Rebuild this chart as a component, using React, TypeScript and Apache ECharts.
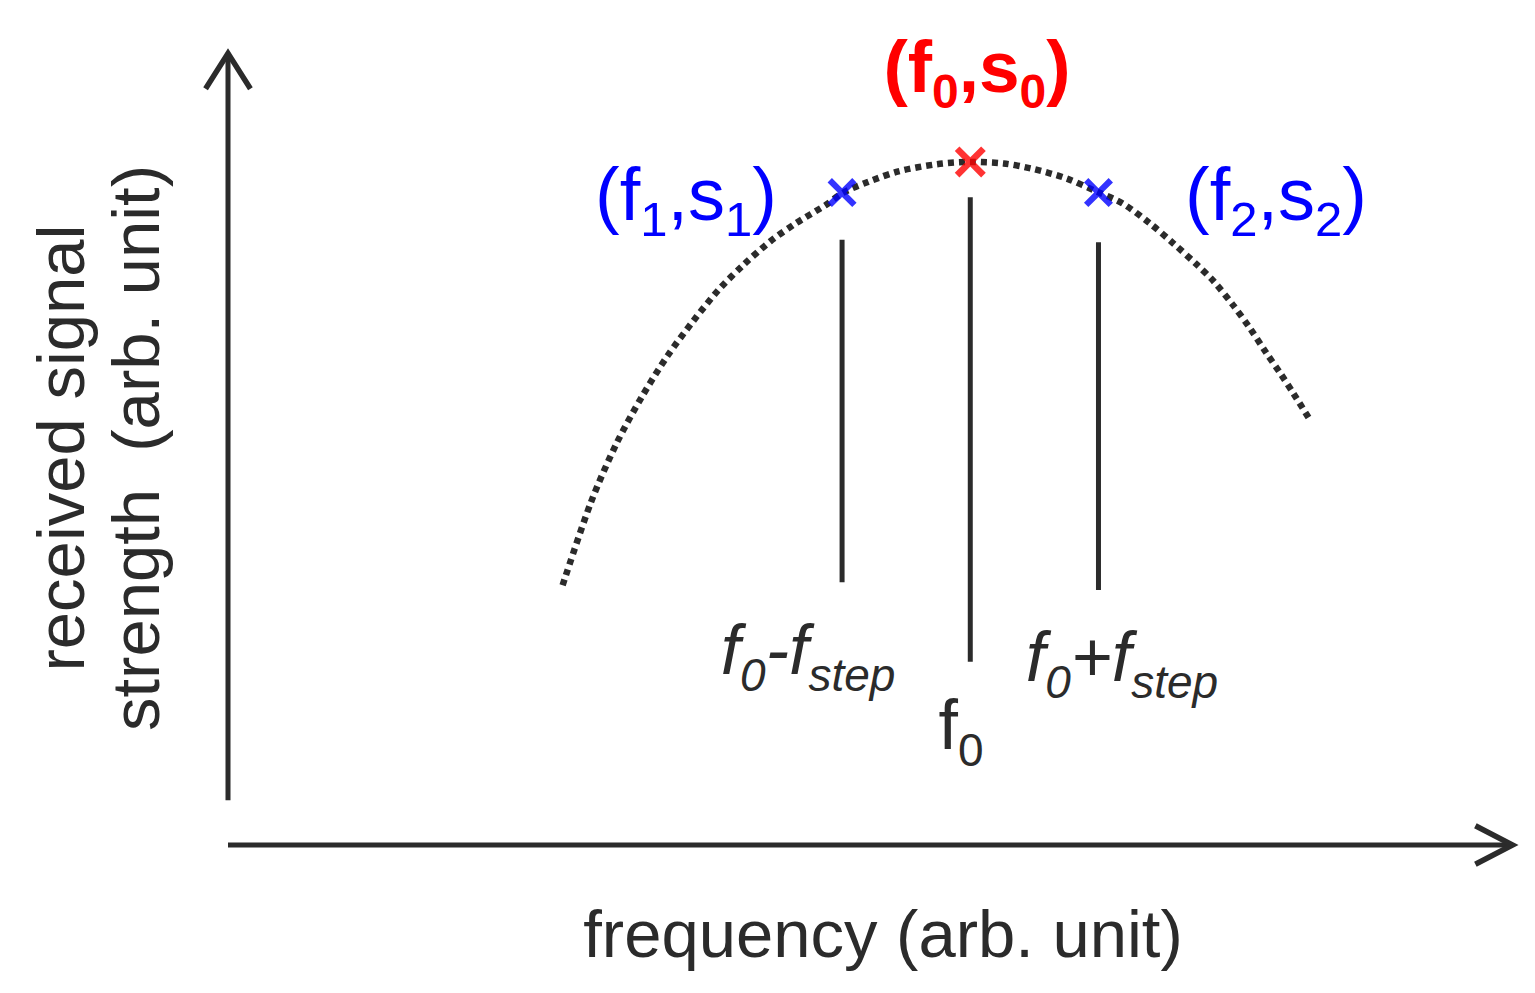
import React, { useEffect, useRef } from "react";
import * as echarts from "echarts";

// Resonance curve (frequency, signal), arbitrary units
const curveFreq = [26.1, 28.3, 30.3, 32.3, 34.3, 36.3, 38.3, 40.2, 42.3, 44.3, 46.6, 48.0, 50.0, 52.3, 55.3, 57.9, 60.5, 62.8, 65.4, 67.8, 69.8, 71.9, 73.7, 75.6, 76.9, 78.4, 79.7, 81.0, 82.1, 83.1, 84.4];
const curveSignal = [33.0, 43.5, 51.0, 57.0, 62.2, 66.6, 70.6, 73.7, 76.7, 79.0, 81.3, 82.9, 84.3, 85.6, 86.5, 86.8, 86.6, 85.9, 84.7, 83.0, 81.5, 79.0, 76.5, 73.7, 71.6, 68.6, 65.7, 62.5, 59.9, 57.4, 54.0];

// sampling points f1, f0, f2 and their signal strengths
const sampleFreq = [47.9, 57.9, 67.9];
const sampleSignal = [82.9, 86.8, 82.9];
const sampleColors = ["#0000ff", "#ff0000", "#0000ff"];

// vertical reference stems at f0 - fstep, f0, f0 + fstep
const stemFreq = [47.9, 57.9, 67.9];
const stemTop = [76.9, 82.3, 76.6];
const stemBottom = [33.4, 23.3, 32.4];

// axes (with open arrow heads)
const yAxisShaft = [[0, 5.7], [0, 100.6]];
const yAxisHead = [[-1.75, 96.1], [0, 100.6], [1.75, 96.1]];
const xAxisShaft = [[0, 0], [100.2, 0]];
const xAxisHead = [[97.3, 2.45], [100.2, 0], [97.3, -2.45]];

const FONT = "'Liberation Sans', Arial, Helvetica, sans-serif";
const DARK = "#2b2b2b";

const XMARK = "path://M0,1.5 L1.5,0 L5,3.5 L8.5,0 L10,1.5 L6.5,5 L10,8.5 L8.5,10 L5,6.5 L1.5,10 L0,8.5 L3.5,5 Z";

function richStyles(fill: string, size: number, sub: number, weight: string, style: string) {
  return {
    m: { fontSize: size, fontFamily: FONT, fill, fontWeight: weight, fontStyle: style },
    s: { fontSize: sub, fontFamily: FONT, fill, fontWeight: weight, fontStyle: style, padding: [50, 0, 0, 0] },
  };
}

export default function App() {
  const ref = useRef<HTMLDivElement>(null);
  useEffect(() => {
    if (!ref.current) return;
    const chart = echarts.init(ref.current, null, { renderer: "svg" });

    const darkLine = (data: number[][], width = 5) => ({
      type: "line",
      data,
      symbol: "none",
      clip: false,
      silent: true,
      lineStyle: { color: DARK, width, cap: "butt", join: "miter" },
    });

    const series: any[] = [
      darkLine(yAxisShaft),
      darkLine(yAxisHead, 5.5),
      darkLine(xAxisShaft),
      darkLine(xAxisHead, 5.5),
      {
        type: "line",
        data: curveFreq.map((f, i) => [f, curveSignal[i]]),
        smooth: 0.3,
        symbol: "none",
        clip: false,
        lineStyle: { color: DARK, width: 6.5, type: [6, 5], cap: "butt" },
      },
      ...stemFreq.map((f, i) => darkLine([[f, stemBottom[i]], [f, stemTop[i]]], 5)),
      {
        type: "scatter",
        data: sampleFreq.map((f, i) => ({
          value: [f, sampleSignal[i]],
          symbolSize: i === 1 ? 31 : 29,
          itemStyle: { color: sampleColors[i] },
        })),
        symbol: XMARK,
        clip: false,
        z: 5,
      },
    ];

    const txt = (x: number, y: number, text: string, rich: any) => ({
      type: "text",
      x,
      y,
      style: { text, rich, align: "center", verticalAlign: "middle" },
    });

    chart.setOption({
      animation: false,
      grid: { left: 163.9, right: 12.18, top: 50.13, bottom: 108.65 },
      xAxis: { type: "value", min: -5, max: 101, show: false },
      yAxis: { type: "value", min: -5, max: 101, show: false },
      series,
      graphic: [
        txt(977, 66, "{m|(f}{s|0}{m|,s}{s|0}{m|)}", richStyles("#ff0000", 73, 48, "bold", "normal")),
        txt(686, 194, "{m|(f}{s|1}{m|,s}{s|1}{m|)}", richStyles("#0000ff", 74, 49, "normal", "normal")),
        txt(1276, 194, "{m|(f}{s|2}{m|,s}{s|2}{m|)}", richStyles("#0000ff", 74, 49, "normal", "normal")),
        txt(808, 650, "{m|f}{s|0}{m|-f}{s|step}", richStyles(DARK, 70, 46, "normal", "italic")),
        txt(961, 725, "{m|f}{s|0}", richStyles(DARK, 70, 46, "normal", "normal")),
        txt(1122, 657, "{m|f}{s|0}{m|+f}{s|step}", richStyles(DARK, 70, 46, "normal", "italic")),
        {
          type: "text",
          x: 883,
          y: 933,
          style: { text: "frequency (arb. unit)", font: `67px ${FONT}`, fill: DARK, align: "center", verticalAlign: "middle" },
        },
        {
          type: "text",
          x: 98,
          y: 448,
          rotation: Math.PI / 2,
          style: {
            text: "received signal\nstrength  (arb. unit)",
            font: `67px ${FONT}`,
            lineHeight: 75,
            fill: DARK,
            align: "center",
            verticalAlign: "middle",
          },
        },
      ],
    });
    return () => chart.dispose();
  }, []);
  return <div ref={ref} style={{ position: "absolute", left: 0, top: 0, width: 1535, height: 993, background: "#fff" }} />;
}
